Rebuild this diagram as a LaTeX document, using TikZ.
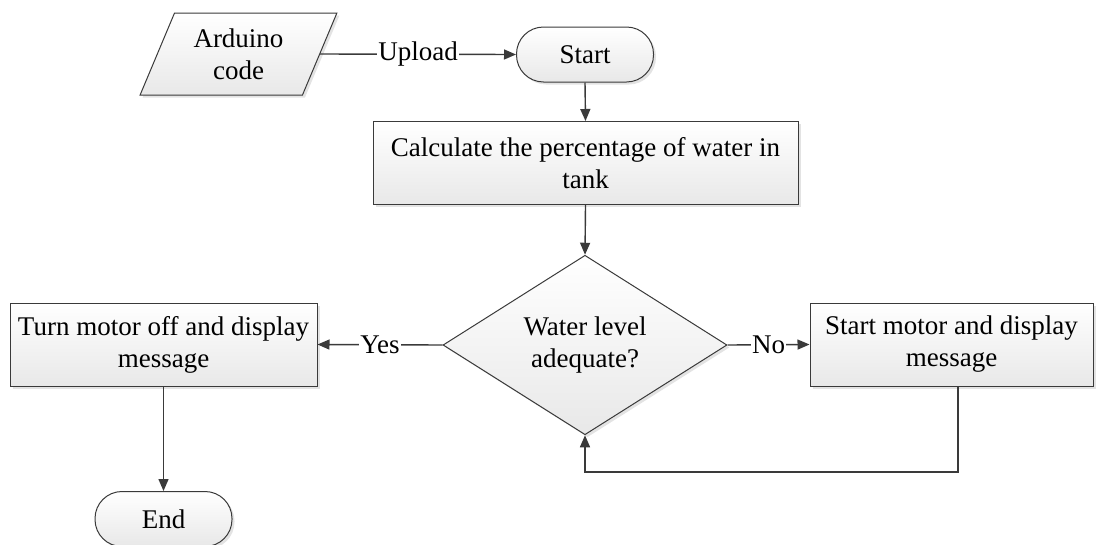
\documentclass[tikz,border=0pt]{standalone}
\usepackage{fontspec}
\setmainfont{Liberation Serif}
\usetikzlibrary{shapes.geometric,shadows,arrows.meta}
\definecolor{linec}{HTML}{3A3A3A}
\tikzset{
  base/.style={draw=linec, line width=1pt, top color=white, bottom color=gray!18,
    drop shadow={shadow xshift=2.5pt, shadow yshift=-2.5pt, opacity=0.22, fill=gray},
    font=\fontsize{27}{32}\selectfont, align=center, inner sep=0pt},
  procbox/.style={base, rectangle, minimum height=83pt},
  termbox/.style={base, rectangle, rounded corners=27pt, minimum width=137pt, minimum height=55pt},
  iobox/.style={base, trapezium, trapezium left angle=64.6, trapezium right angle=115.4,
    trapezium stretches=true, minimum width=197pt, minimum height=82pt},
  decbox/.style={base, diamond, minimum width=284pt, minimum height=171pt},
  conn/.style={draw=linec, line width=1.4pt, -{Triangle[length=12pt,width=10pt]}},
  lbl/.style={fill=white, inner sep=1pt, font=\fontsize{27}{32}\selectfont}
}
\begin{document}
\begin{tikzpicture}[x=1pt,y=-1pt]
\useasboundingbox (0,0) rectangle (1097,544);
\node[iobox] (code) at (238.5,54) {Arduino\\code};
\node[termbox] (start) at (585,54.5) {Start};
\node[procbox, minimum width=425pt] (calc) at (585.5,163) {Calculate the percentage of water in\\tank};
\node[decbox] (dec) at (585,345) {Water level\\adequate?};
\node[procbox, minimum width=307pt] (off) at (163.5,344.5) {Turn motor off and display\\message};
\node[procbox, minimum width=283pt] (on) at (951.5,344.5) {Start motor and display\\message};
\node[termbox] (end) at (163.5,519) {End};
\coordinate (loop) at (958,472);

\draw[conn] (code.east) -- node[lbl]{Upload} (start.west);
\draw[conn] (start.south) -- (calc.north);
\draw[conn] (calc.south) -- (dec.north);
\draw[conn] (dec.west) -- node[lbl]{Yes} (off.east);
\draw[conn] (dec.east) -- node[lbl]{No} (on.west);
\draw[conn] (on.south -| loop) -- (loop) -| (dec.south);
\draw[conn] (off.south) -- (end.north);
\end{tikzpicture}
\end{document}
